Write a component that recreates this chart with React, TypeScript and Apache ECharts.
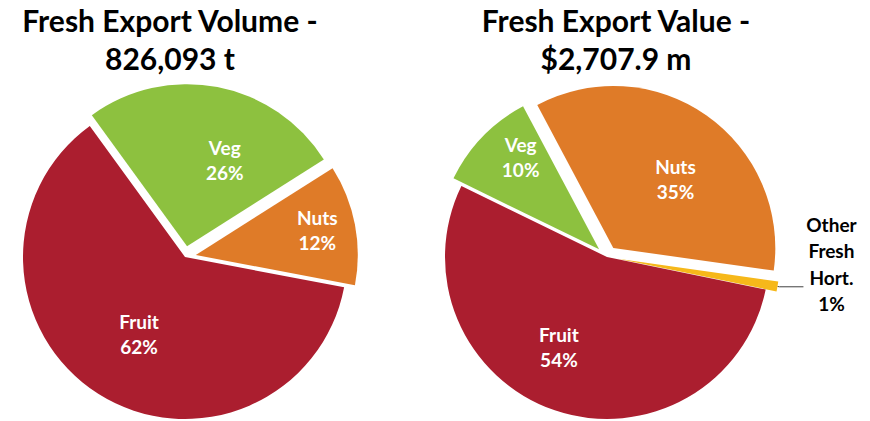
import React, { useEffect, useRef } from "react";
import * as echarts from "echarts";

// ---- data ----
const volumeTitle = "Fresh Export Volume -\n826,093 t";
const valueTitle = "Fresh Export Value -\n$2,707.9 m";

const volumeCategories = ["Veg", "Nuts", "Fruit"];
const volumeShares = [26, 12, 62];

const valueCategories = ["Veg", "Nuts", "Other Fresh Hort.", "Fruit"];
const valueShares = [10, 35, 1, 54];

const colorOf: Record<string, string> = {
  Fruit: "#AB1E2F",
  Veg: "#8DC13F",
  Nuts: "#DF7B28",
  "Other Fresh Hort.": "#F6B81A",
};

// label nudges (style tweaks, per series / slice) to mimic the original placement
const labelNudge: number[][][] = [
  [[22, -4], [39, -9], [-1, 6]],
  [[-18, -34], [14, 0], [0, 0], [-21, 10]],
];

const FONT = "Lato";

function buildData(cats: string[], vals: number[]) {
  return cats.map((c, i) => {
    const isOther = c === "Other Fresh Hort.";
    const item: any = {
      name: c,
      value: vals[i],
      selected: c !== "Fruit",
      itemStyle: { color: colorOf[c] },
    };
    if (isOther) {
      item.label = {
        position: "outside",
        color: "#000",
        formatter: "{a|Other}\n{a|Fresh}\n{a|Hort.}\n{a|{d}%}",
        distanceToLabelLine: 0,
        padding: [0, 0, 46, 0],
        rich: {
          a: {
            width: 56,
            align: "center",
            fontFamily: FONT,
            fontWeight: "bold",
            fontSize: 19,
            lineHeight: 26.5,
            color: "#000",
          },
        },
      };
      item.labelLine = {
        show: true,
        length: 2,
        length2: 24,
        lineStyle: { color: "#404040", width: 1 },
      };
    }
    return item;
  });
}

function pieSeries(center: number[], startAngle: number, data: any[]) {
  return {
    type: "pie",
    center,
    radius: 162,
    startAngle,
    clockwise: true,
    selectedMode: "multiple",
    selectedOffset: 11,
    avoidLabelOverlap: false,
    percentPrecision: 0,
    emphasis: { disabled: true },
    itemStyle: { borderWidth: 0 },
    label: {
      show: true,
      position: "inside",
      formatter: "{b}\n{d}%",
      color: "#fff",
      fontFamily: FONT,
      fontWeight: "bold",
      fontSize: 19,
      lineHeight: 25,
    },
    labelLine: { show: false },
    labelLayout: (p: any) => {
      const n = labelNudge[p.seriesIndex]?.[p.dataIndex];
      if (!n || (n[0] === 0 && n[1] === 0)) return null;
      return { dx: n[0], dy: n[1] };
    },
    data,
  };
}

export default function App() {
  const ref = useRef<HTMLDivElement>(null);
  useEffect(() => {
    if (!ref.current) return;
    const chart = echarts.init(ref.current, undefined, { renderer: "svg" });
    const titleStyle = {
      align: "center",
      verticalAlign: "top",
      fontFamily: FONT,
      fontWeight: "bold",
      fontSize: 30,
      lineHeight: 38,
      fill: "#000",
    };
    chart.setOption({
      animation: false,
      backgroundColor: "#fff",
      graphic: [
        { type: "text", x: 170, y: 1, style: { ...titleStyle, text: volumeTitle } },
        { type: "text", x: 616, y: 1, style: { ...titleStyle, text: valueTitle } },
      ],
      series: [
        pieSeries([185, 257], 126, buildData(volumeCategories, volumeShares)),
        pieSeries([607, 257], 154, buildData(valueCategories, valueShares)),
      ],
    });
    return () => chart.dispose();
  }, []);
  return (
    <div
      ref={ref}
      style={{ position: "absolute", left: 0, top: 0, width: 870, height: 421 }}
    />
  );
}
